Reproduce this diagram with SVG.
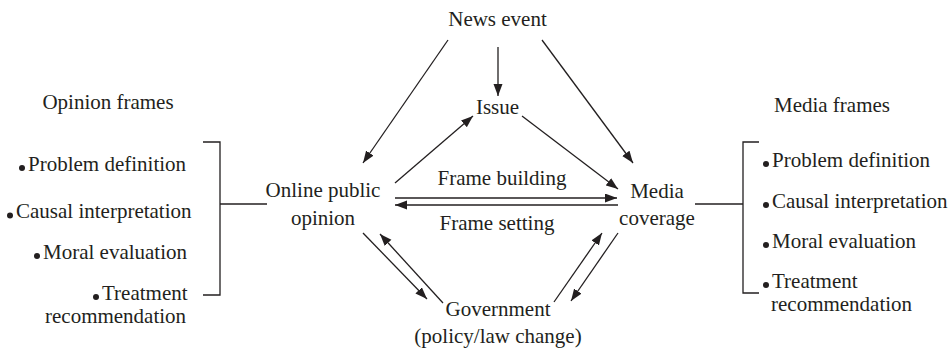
<svg xmlns="http://www.w3.org/2000/svg" width="951" height="349" viewBox="0 0 951 349">
<style>
text{font-family:"Liberation Serif","Times New Roman",serif;font-size:21px;fill:#231f20}
.c{text-anchor:middle}
.ln{stroke:#231f20;stroke-width:1.3;fill:none}
.b{fill:#231f20}
</style>
<defs>
<marker id="ah" markerUnits="userSpaceOnUse" markerWidth="13" markerHeight="10" refX="12" refY="4.5" orient="auto">
<path d="M0,0 L12,4.5 L0,9 z" fill="#231f20"/>
</marker>
</defs>
<rect width="951" height="349" fill="#fff"/>
<g id="connectors">
<line class="ln" x1="448" y1="40" x2="363" y2="163" marker-end="url(#ah)"/>
<line class="ln" x1="498" y1="47" x2="498" y2="96" marker-end="url(#ah)"/>
<line class="ln" x1="542" y1="40" x2="633" y2="163" marker-end="url(#ah)"/>
<line class="ln" x1="395" y1="183" x2="473" y2="116" marker-end="url(#ah)"/>
<line class="ln" x1="522" y1="116" x2="618" y2="189" marker-end="url(#ah)"/>
<line class="ln" x1="395" y1="198" x2="617" y2="198" marker-end="url(#ah)"/>
<line class="ln" x1="618" y1="205" x2="395" y2="205" marker-end="url(#ah)"/>
<line class="ln" x1="363" y1="233" x2="427" y2="299" marker-end="url(#ah)"/>
<line class="ln" x1="443" y1="303" x2="380" y2="234" marker-end="url(#ah)"/>
<line class="ln" x1="554" y1="302" x2="602" y2="233" marker-end="url(#ah)"/>
<line class="ln" x1="618" y1="233" x2="571" y2="301" marker-end="url(#ah)"/>
<polyline class="ln" points="203,142 220,142 220,295 203,295"/>
<line class="ln" x1="220" y1="204" x2="267" y2="204"/>
<polyline class="ln" points="759,142 743,142 743,293 759,293"/>
<line class="ln" x1="695" y1="204" x2="743" y2="204"/>
</g>
<g id="news-event"><text class="c" x="497.5" y="26">News event</text></g>
<g id="issue"><text class="c" x="497.5" y="114">Issue</text></g>
<g id="online-public-opinion"><text class="c" x="323" y="197">Online public</text><text class="c" x="323" y="225">opinion</text></g>
<g id="media-coverage"><text class="c" x="657" y="198">Media</text><text class="c" x="657" y="225">coverage</text></g>
<g id="government"><text class="c" x="498" y="316">Government</text><text class="c" x="498" y="343">(policy/law change)</text></g>
<g id="frame-labels"><text class="c" x="502" y="185">Frame building</text><text class="c" x="497" y="230">Frame setting</text></g>
<g id="opinion-frames">
<text class="c" x="108" y="109">Opinion frames</text>
<circle class="b" cx="22" cy="168" r="3"/><text x="28" y="171">Problem definition</text>
<circle class="b" cx="10" cy="215.5" r="3"/><text x="16" y="218">Causal interpretation</text>
<circle class="b" cx="37" cy="256" r="3"/><text x="43" y="259">Moral evaluation</text>
<circle class="b" cx="96" cy="297" r="3"/><text x="102" y="300">Treatment</text>
<text x="45" y="323">recommendation</text>
</g>
<g id="media-frames">
<text class="c" x="832" y="112">Media frames</text>
<circle class="b" cx="766" cy="164" r="3"/><text x="772" y="167">Problem definition</text>
<circle class="b" cx="766" cy="205" r="3"/><text x="772" y="208">Causal interpretation</text>
<circle class="b" cx="766" cy="245" r="3"/><text x="772" y="248">Moral evaluation</text>
<circle class="b" cx="766" cy="285" r="3"/><text x="772" y="288">Treatment</text>
<text x="771" y="311">recommendation</text>
</g>
</svg>
